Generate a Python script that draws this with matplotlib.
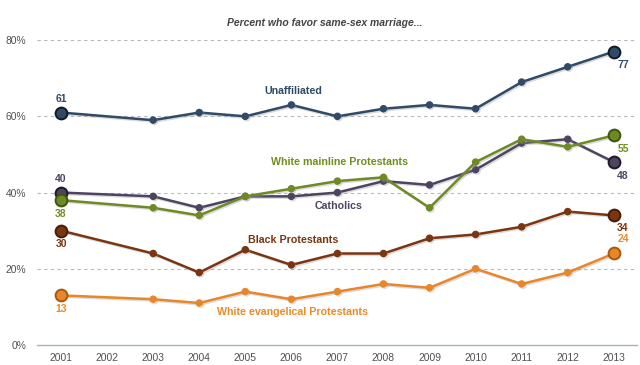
import matplotlib
matplotlib.use("Agg")
import matplotlib.pyplot as plt
import matplotlib.patheffects as pe

plt.rcParams['font.family'] = ['Liberation Sans', 'DejaVu Sans']

# survey years (no survey in 2002)
years = [2001, 2003, 2004, 2005, 2006, 2007, 2008, 2009, 2010, 2011, 2012, 2013]
tick_years = list(range(2001, 2014))

unaffiliated = [61, 59, 61, 60, 63, 60, 62, 63, 62, 69, 73, 77]
catholics = [40, 39, 36, 39, 39, 40, 43, 42, 46, 53, 54, 48]
mainline = [38, 36, 34, 39, 41, 43, 44, 36, 48, 54, 52, 55]
black_prot = [30, 24, 19, 25, 21, 24, 24, 28, 29, 31, 35, 34]
evangelical = [13, 12, 11, 14, 12, 14, 16, 15, 20, 16, 19, 24]

yticks = [0, 20, 40, 60, 80]
ytick_labels = ['0%', '20%', '40%', '60%', '80%']

# name, values, line colour, edge colour, label pos, end label offsets (first, last)
series = [
    ('Unaffiliated', unaffiliated, '#2f4b67', '#101b27', (2006.05, 66.7), (3.6, -3.6)),
    ('Catholics', catholics, '#4e4461', '#1e1828', (2007.03, 36.5), (3.6, -3.6)),
    ('White mainline Protestants', mainline, '#6d8a25', '#3e5410', (2007.04, 47.9), (-3.6, -3.6)),
    ('Black Protestants', black_prot, '#7a3511', '#4a1c05', (2006.03, 27.5), (-3.6, -3.3)),
    ('White evangelical Protestants', evangelical, '#e8862a', '#a85810', (2006.03, 8.7), (-3.6, 3.8)),
]
text_colors = {
    'Unaffiliated': '#2f4b67',
    'Catholics': '#4e4461',
    'White mainline Protestants': '#6f8f1e',
    'Black Protestants': '#7a3511',
    'White evangelical Protestants': '#ee8a24',
}

fig = plt.figure(figsize=(6.4, 3.65), dpi=100)
ax = fig.add_axes([0.058, 0.055, 0.937, 0.835])

for y in yticks[1:]:
    ax.axhline(y, color='#b8b8b8', lw=0.8, ls=(0, (3, 3)), zorder=0)

shadow = [pe.SimpleLineShadow(offset=(1, -1), shadow_color='#999999', alpha=0.35), pe.Normal()]

for name, vals, col, edge, lab, offs in series:
    ax.plot(years, vals, color=col, lw=1.8, marker='o', ms=4.4, mfc=col, mec=col,
            path_effects=shadow, zorder=3, clip_on=False)
    # bigger end markers
    ax.plot([years[0], years[-1]], [vals[0], vals[-1]], ls='none', marker='o', ms=8.5,
            mfc=col, mec=edge, mew=1.4, zorder=4, clip_on=False)
    tc = text_colors[name]
    ax.text(lab[0], lab[1], name, color=tc, fontsize=7.7, fontweight='bold',
            ha='center', va='center')
    ax.text(years[0], vals[0] + offs[0], str(vals[0]), color=tc, fontsize=7.5,
            fontweight='bold', ha='center', va='center')
    ax.text(years[-1] + 0.2, vals[-1] + offs[1], str(vals[-1]), color=tc, fontsize=7.5,
            fontweight='bold', ha='center', va='center')

ax.set_xlim(2000.48, 2013.5)
ax.set_ylim(0, 80)
ax.set_xticks(tick_years)
ax.set_xticklabels([str(y) for y in tick_years], fontsize=7.4, color='#505050')
ax.set_yticks(yticks)
ax.set_yticklabels(ytick_labels, fontsize=7.4, color='#505050')
ax.tick_params(length=0, pad=6)
ax.tick_params(axis='y', pad=8)
for s in ['top', 'right', 'left']:
    ax.spines[s].set_visible(False)
ax.spines['bottom'].set_color('#9fb3cc')
ax.spines['bottom'].set_linewidth(1.0)

fig.text(0.507, 0.938, 'Percent who favor same-sex marriage...', fontsize=7.5,
         style='italic', fontweight='bold', color='#444444', ha='center', va='center')

fig.savefig('out.png', dpi=100)
